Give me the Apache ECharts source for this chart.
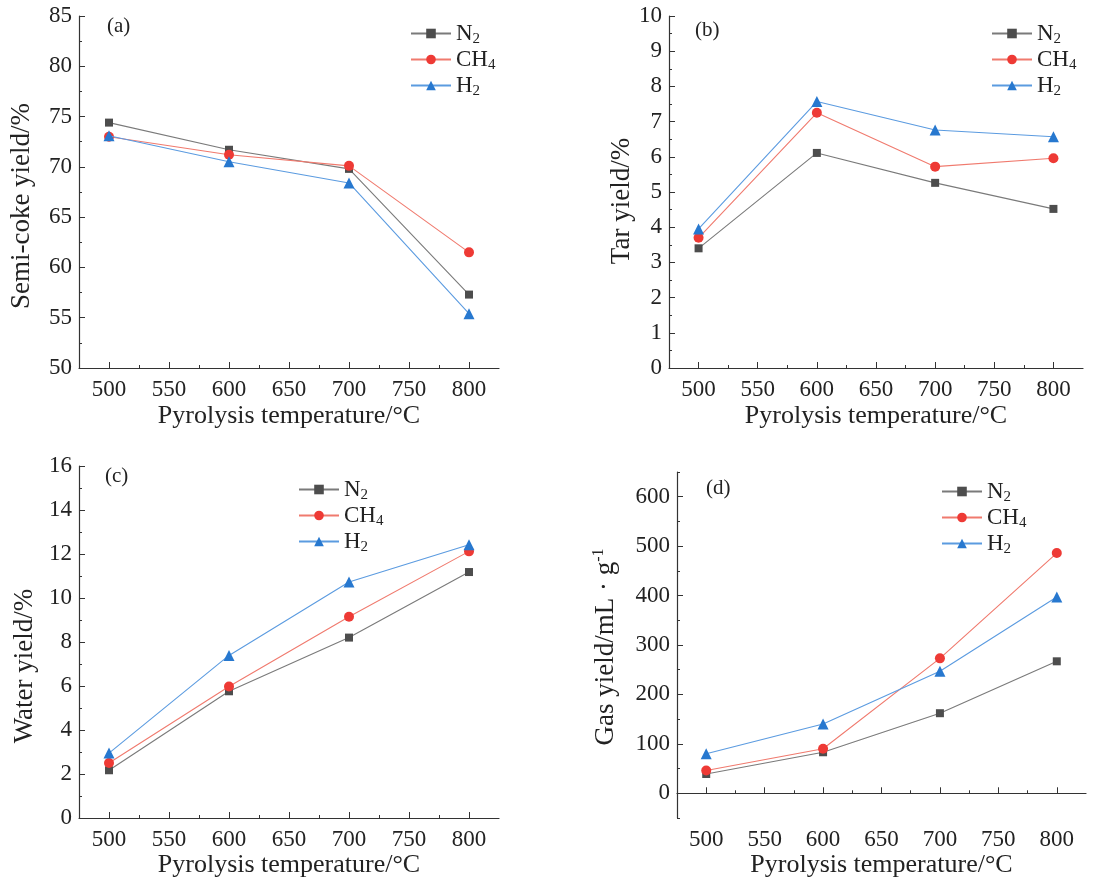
<!DOCTYPE html>
<html>
<head>
<meta charset="utf-8">
<script src="https://cdn.jsdelivr.net/npm/echarts@6/dist/echarts.min.js"></script>
<style>
  html, body { margin: 0; padding: 0; background: #fff; }
  #main { width: 1107px; height: 881px; }
</style>
</head>
<body>
<div id="main"></div>
<script>
// x axis (temperature, shared by all four panels)
var temps = [500, 600, 700, 800];
var xTickVals = [500, 550, 600, 650, 700, 750, 800];
var xMinorVals = [525, 575, 625, 675, 725, 775];

// (a) semi-coke yield, %
var semiN2 = [74.4, 71.7, 69.8, 57.3];
var semiCH4 = [73.0, 71.2, 70.1, 61.5];
var semiH2 = [73.1, 70.5, 68.4, 55.4];
var semiTicks = [50, 55, 60, 65, 70, 75, 80, 85];
var semiMinor = [52.5, 57.5, 62.5, 67.5, 72.5, 77.5, 82.5];

// (b) tar yield, %
var tarN2 = [3.40, 6.11, 5.26, 4.52];
var tarCH4 = [3.70, 7.25, 5.72, 5.96];
var tarH2 = [3.95, 7.57, 6.76, 6.57];
var tarTicks = [0, 1, 2, 3, 4, 5, 6, 7, 8, 9, 10];
var tarMinor = [0.5, 1.5, 2.5, 3.5, 4.5, 5.5, 6.5, 7.5, 8.5, 9.5];

// (c) water yield, %
var waterN2 = [2.17, 5.76, 8.20, 11.18];
var waterCH4 = [2.50, 5.98, 9.15, 12.12];
var waterH2 = [2.95, 7.39, 10.73, 12.42];
var waterTicks = [0, 2, 4, 6, 8, 10, 12, 14, 16];
var waterMinor = [1, 3, 5, 7, 9, 11, 13, 15];

// (d) gas yield, mL/g
var gasN2 = [39, 83, 162, 267];
var gasCH4 = [46, 90, 273, 486];
var gasH2 = [80, 140, 247, 397];
var gasTicks = [0, 100, 200, 300, 400, 500, 600];
var gasMinor = [-50, 50, 150, 250, 350, 450, 550, 650];

var FONT = '"Liberation Serif", "Times New Roman", serif';
var TXT = '#222';
var AX = '#333';

var gasNames = ['N2', 'CH4', 'H2'];
var gasStyle = {
  N2: { symbol: 'rect', size: 8, line: '#7a7a7a', mark: '#4d4d4d' },
  CH4: { symbol: 'circle', size: 10, line: '#f07a6e', mark: '#ee3a35' },
  H2: { symbol: 'triangle', size: 11, line: '#5b9be0', mark: '#2778cf' }
};

var grids = [];
var xAxes = [];
var yAxes = [];
var series = [];
var legends = [];
var graphics = [];

function legendFmt(name) {
  if (name == 'N2') return '{b|N}{s|2}';
  if (name == 'CH4') return '{b|CH}{s|4}';
  return '{b|H}{s|2}';
}

function addPanel(p) {
  var gi = grids.length;
  grids.push({ left: p.left, top: p.top, width: p.width, height: p.height });

  // main x axis: line, labels and major ticks
  xAxes.push({
    type: 'value', gridIndex: gi, position: 'bottom', min: 475, max: 825,
    axisLine: { show: true, lineStyle: { color: AX, width: 1.2 } },
    axisTick: { show: true, inside: true, length: 6, customValues: xTickVals, lineStyle: { color: AX } },
    axisLabel: { customValues: xTickVals, margin: 10, color: TXT, fontFamily: FONT, fontSize: 23 },
    splitLine: { show: false },
    name: 'Pyrolysis temperature/°C', nameLocation: 'middle', nameGap: p.xNameGap,
    nameTextStyle: { color: TXT, fontFamily: FONT, fontSize: 26 }
  });
  // minor x ticks
  xAxes.push({
    type: 'value', gridIndex: gi, position: 'bottom', min: 475, max: 825,
    axisLine: { show: false },
    axisTick: { show: true, inside: true, length: 3, customValues: xMinorVals, lineStyle: { color: AX } },
    axisLabel: { show: false },
    splitLine: { show: false }
  });

  yAxes.push({
    type: 'value', gridIndex: gi, position: 'left', min: p.yMin, max: p.yMax,
    axisLine: { show: true, lineStyle: { color: AX, width: 1.2 } },
    axisTick: { show: true, inside: true, length: 6, customValues: p.yTicks, lineStyle: { color: AX } },
    axisLabel: { customValues: p.yTicks, margin: 7, color: TXT, fontFamily: FONT, fontSize: 23 },
    splitLine: { show: false },
    name: p.yName, nameLocation: 'middle', nameGap: p.yNameGap,
    nameTextStyle: {
      color: TXT, fontFamily: FONT, fontSize: 27,
      padding: [0, p.yNameShift, 0, 0],
      rich: {
        t: { color: TXT, fontFamily: FONT, fontSize: 27, lineHeight: 30 },
        sup: { color: TXT, fontFamily: FONT, fontSize: 16, lineHeight: 14, verticalAlign: 'top' }
      }
    }
  });
  yAxes.push({
    type: 'value', gridIndex: gi, position: 'left', min: p.yMin, max: p.yMax,
    axisLine: { show: false },
    axisTick: { show: true, inside: true, length: 3, customValues: p.yMinor, lineStyle: { color: AX } },
    axisLabel: { show: false },
    splitLine: { show: false }
  });

  var xi = gi * 2, yi = gi * 2;
  var sets = { N2: p.n2, CH4: p.ch4, H2: p.h2 };
  var ids = [];
  gasNames.forEach(function (g) {
    var st = gasStyle[g];
    var id = g + '_' + gi;
    ids.push({ name: id });
    series.push({
      id: id, name: id, type: 'line', xAxisIndex: xi, yAxisIndex: yi,
      data: temps.map(function (t, i) { return [t, sets[g][i]]; }),
      symbol: st.symbol, symbolSize: st.size, showSymbol: true,
      lineStyle: { color: st.line, width: 1.1 },
      itemStyle: { color: st.mark },
      z: g == 'N2' ? 3 : (g == 'CH4' ? 4 : 5)
    });
  });

  legends.push({
    orient: 'vertical', left: p.legLeft, top: p.legTop,
    itemWidth: 40, itemHeight: 12, itemGap: 1,
    data: ids,
    selectedMode: false,
    formatter: function (n) { return legendFmt(n.split('_')[0]); },
    textStyle: {
      color: TXT, fontFamily: FONT,
      rich: {
        b: { color: TXT, fontFamily: FONT, fontSize: 23, lineHeight: 27 },
        s: { color: TXT, fontFamily: FONT, fontSize: 15, lineHeight: 12, verticalAlign: 'bottom' }
      }
    }
  });

  graphics.push({
    type: 'text', left: p.tagX, top: p.tagY,
    style: { text: p.tag, fill: TXT, font: '21px ' + FONT }
  });
}

addPanel({
  left: 79, top: 16, width: 420, height: 352,
  yMin: 50, yMax: 85, yTicks: semiTicks, yMinor: semiMinor,
  yName: 'Semi-coke yield/%', yNameGap: 44, yNameShift: 28, xNameGap: 35,
  n2: semiN2, ch4: semiCH4, h2: semiH2,
  legLeft: 405, legTop: 17, tag: '(a)', tagX: 107, tagY: 16
});
addPanel({
  left: 669, top: 16, width: 414, height: 352,
  yMin: 0, yMax: 10, yTicks: tarTicks, yMinor: tarMinor,
  yName: 'Tar yield/%', yNameGap: 28, yNameShift: 18, xNameGap: 35,
  n2: tarN2, ch4: tarCH4, h2: tarH2,
  legLeft: 986, legTop: 17, tag: '(b)', tagX: 695, tagY: 20
});
addPanel({
  left: 79, top: 466, width: 420, height: 352,
  yMin: 0, yMax: 16, yTicks: waterTicks, yMinor: waterMinor,
  yName: 'Water yield/%', yNameGap: 41, yNameShift: 48, xNameGap: 28,
  n2: waterN2, ch4: waterCH4, h2: waterH2,
  legLeft: 293, legTop: 473, tag: '(c)', tagX: 105, tagY: 466
});
addPanel({
  left: 677, top: 472, width: 409, height: 346,
  yMin: -50, yMax: 650, yTicks: gasTicks, yMinor: gasMinor,
  yName: '{t|Gas yield/mL · g}{sup|-1}', yNameGap: 56, yNameShift: 4, xNameGap: 28,
  n2: gasN2, ch4: gasCH4, h2: gasH2,
  legLeft: 936, legTop: 475, tag: '(d)', tagX: 706, tagY: 478
});

var myChart = echarts.init(document.getElementById('main'), null, { renderer: 'canvas' });
myChart.setOption({
  backgroundColor: '#fff',
  animation: false,
  grid: grids,
  xAxis: xAxes,
  yAxis: yAxes,
  legend: legends,
  series: series,
  graphic: graphics
});
</script>
</body>
</html>
